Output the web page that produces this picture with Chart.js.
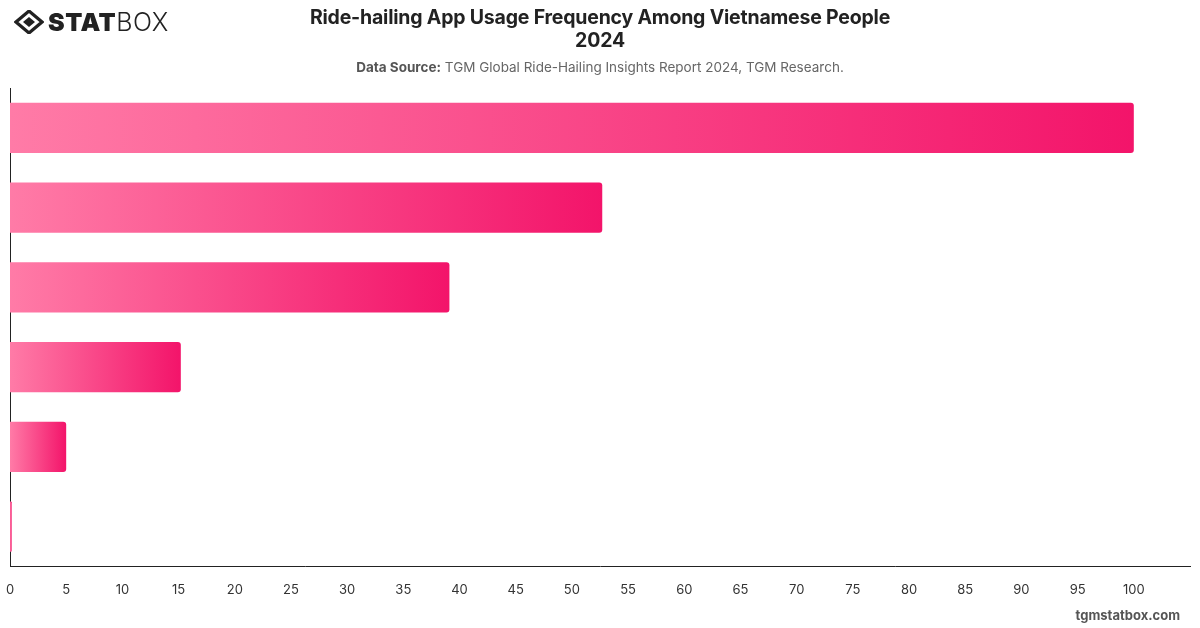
<!DOCTYPE html>
<html>
<head>
<meta charset="utf-8">
<script src="https://cdn.jsdelivr.net/npm/chart.js@4.4.1/dist/chart.umd.min.js"></script>
<style>
  html, body { margin: 0; padding: 0; background: #fff; }
  body { width: 1200px; height: 628px; position: relative; overflow: hidden; font-family: Inter, "Helvetica Neue", Arial, sans-serif; }
  #wrap { position: absolute; left: 0; top: 0; width: 1200px; height: 628px; }
  #title { position: absolute; left: 0; width: 1200px; top: 6px; text-align: center; font-size: 19.5px; font-weight: 700; color: #222; line-height: 23px; letter-spacing: -0.2px; }
  #sub { position: absolute; left: 0; width: 1200px; top: 59px; text-align: center; font-size: 13.5px; color: #666; }
  #sub b { color: #555; }
  #logo { position: absolute; left: 14px; top: 8px; height: 28px; display: flex; align-items: center; }
  #logo .t { font-size: 25px; font-weight: 900; color: #222; letter-spacing: 0.5px; margin-left: 4px; }
  #logo .b { font-size: 25px; font-weight: 300; color: #222; letter-spacing: 0.5px; }
  #foot { position: absolute; right: 20px; top: 607px; font-size: 13px; font-weight: 700; color: #555; }
</style>
</head>
<body>
<div id="wrap"><canvas id="c" width="1200" height="628"></canvas></div>
<div id="logo">
  <svg width="30" height="24" viewBox="0 0 30 24">
    <path d="M15 1 L28 12 L15 23 L2 12 Z" fill="none" stroke="#222" stroke-width="3.2"/>
    <path d="M15 7 L21 12 L15 17 L9 12 Z" fill="#222"/>
  </svg>
  <span class="t">STAT</span><span class="b">BOX</span>
</div>
<div id="title">Ride-hailing App Usage Frequency Among Vietnamese People<br>2024</div>
<div id="sub"><b>Data Source:</b> TGM Global Ride-Hailing Insights Report 2024, TGM Research.</div>
<div id="foot">tgmstatbox.com</div>
<script>
const categories = ["Daily", "Several times a week", "Once a week", "Several times a month", "Once a month or less", "Never"];
const usageValues = [100, 52.7, 39.1, 15.2, 5.0, 0.15];
const xTickMax = 105;

function barGradient(context) {
  const chart = context.chart;
  const xs = chart.scales && chart.scales.x;
  if (!xs || !chart.chartArea) return '#f5166a';
  const v = context.raw;
  const x0 = xs.getPixelForValue(0);
  const x1 = xs.getPixelForValue(v);
  const g = chart.ctx.createLinearGradient(x0, 0, Math.max(x1, x0 + 1), 0);
  g.addColorStop(0, '#ff7ba7');
  g.addColorStop(1, '#f3146a');
  return g;
}

new Chart(document.getElementById('c'), {
  type: 'bar',
  data: {
    labels: categories,
    datasets: [{
      data: usageValues,
      backgroundColor: barGradient,
      borderWidth: 0,
      borderRadius: { topRight: 3, bottomRight: 3, topLeft: 0, bottomLeft: 0 },
      borderSkipped: false,
      barPercentage: 0.7,
      categoryPercentage: 0.9
    }]
  },
  options: {
    indexAxis: 'y',
    responsive: false,
    animation: false,
    devicePixelRatio: 1,
    layout: { padding: { top: 88, left: 10, right: 10, bottom: 14 } },
    plugins: { legend: { display: false }, tooltip: { enabled: false }, title: { display: false } },
    scales: {
      x: {
        min: 0,
        max: xTickMax,
        grid: { display: false, drawTicks: false },
        border: { display: true, color: '#222', width: 1 },
        ticks: {
          stepSize: 5,
          padding: 16,
          color: '#333',
          maxRotation: 0,
          font: { size: 13, family: 'Inter, Arial, sans-serif' },
          callback: (v) => (v === xTickMax ? '' : v)
        },
        afterFit: (s) => { s.paddingLeft = 0; s.paddingRight = 0; }
      },
      y: {
        grid: { display: false, drawTicks: false },
        border: { display: true, color: '#222', width: 1 },
        ticks: { display: false },
        afterFit: (s) => { s.width = 0; }
      }
    }
  }
});
</script>
</body>
</html>
